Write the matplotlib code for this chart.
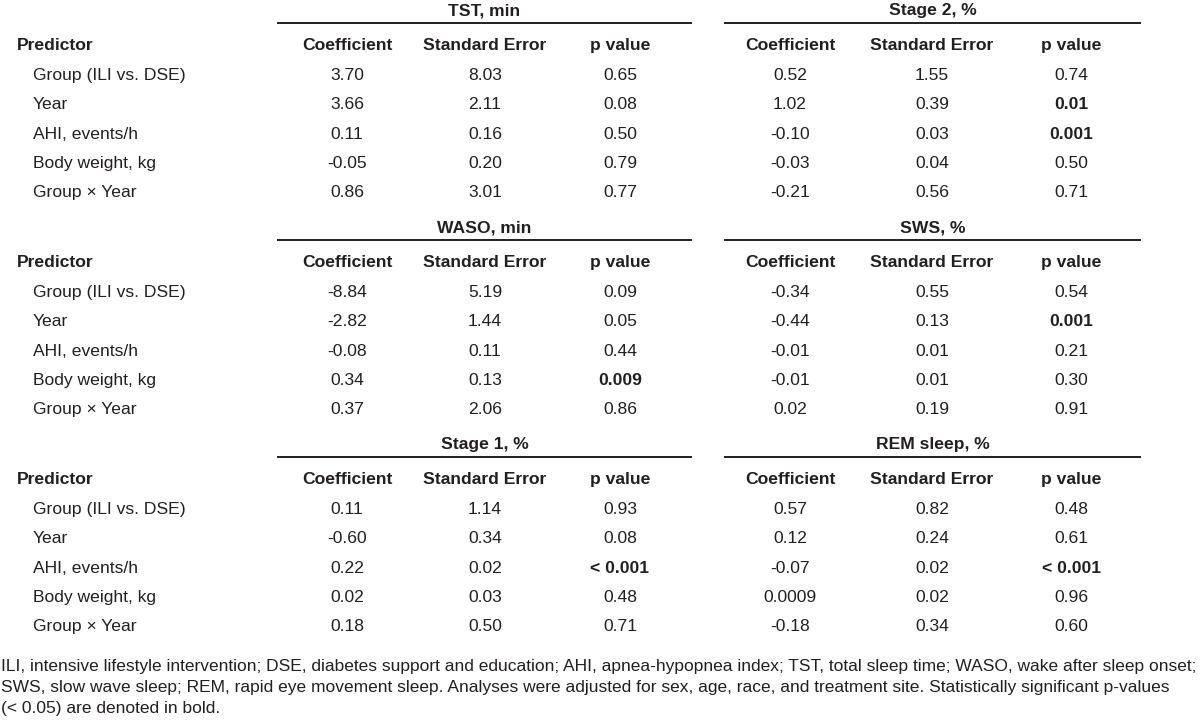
import matplotlib
matplotlib.use("Agg")
import matplotlib.pyplot as plt
import matplotlib.font_manager as fm

# ---- data ----
predictors = ["Group (ILI vs. DSE)", "Year", "AHI, events/h", "Body weight, kg", "Group \u00d7 Year"]
col_headers = ["Coefficient", "Standard Error", "p value"]

# (title, coefficients, standard errors, p values, bold p flags)
tst_title = "TST, min"
tst_coef = ["3.70", "3.66", "0.11", "-0.05", "0.86"]
tst_se = ["8.03", "2.11", "0.16", "0.20", "3.01"]
tst_p = ["0.65", "0.08", "0.50", "0.79", "0.77"]
tst_bold = [False, False, False, False, False]

st2_title = "Stage 2, %"
st2_coef = ["0.52", "1.02", "-0.10", "-0.03", "-0.21"]
st2_se = ["1.55", "0.39", "0.03", "0.04", "0.56"]
st2_p = ["0.74", "0.01", "0.001", "0.50", "0.71"]
st2_bold = [False, True, True, False, False]

waso_title = "WASO, min"
waso_coef = ["-8.84", "-2.82", "-0.08", "0.34", "0.37"]
waso_se = ["5.19", "1.44", "0.11", "0.13", "2.06"]
waso_p = ["0.09", "0.05", "0.44", "0.009", "0.86"]
waso_bold = [False, False, False, True, False]

sws_title = "SWS, %"
sws_coef = ["-0.34", "-0.44", "-0.01", "-0.01", "0.02"]
sws_se = ["0.55", "0.13", "0.01", "0.01", "0.19"]
sws_p = ["0.54", "0.001", "0.21", "0.30", "0.91"]
sws_bold = [False, True, False, False, False]

st1_title = "Stage 1, %"
st1_coef = ["0.11", "-0.60", "0.22", "0.02", "0.18"]
st1_se = ["1.14", "0.34", "0.02", "0.03", "0.50"]
st1_p = ["0.93", "0.08", "< 0.001", "0.48", "0.71"]
st1_bold = [False, False, True, False, False]

rem_title = "REM sleep, %"
rem_coef = ["0.57", "0.12", "-0.07", "0.0009", "-0.18"]
rem_se = ["0.82", "0.24", "0.02", "0.02", "0.34"]
rem_p = ["0.48", "0.61", "< 0.001", "0.96", "0.60"]
rem_bold = [False, False, True, False, False]

footnote = ["ILI, intensive lifestyle intervention; DSE, diabetes support and education; AHI, apnea-hypopnea index; TST, total sleep time; WASO, wake after sleep onset;",
            "SWS, slow wave sleep; REM, rapid eye movement sleep. Analyses were adjusted for sex, age, race, and treatment site. Statistically significant p-values",
            "(< 0.05) are denoted in bold."]

# ---- font ----
names = {f.name for f in fm.fontManager.ttflist}
if "Liberation Sans Narrow" in names:
    fam = "Liberation Sans Narrow"
    fs, fs_note = 15.3, 15.0
else:
    fam = "Liberation Sans"
    fs, fs_note = 12.6, 12.5
plt.rcParams["font.family"] = [fam, "DejaVu Sans"]

ink = "#231f20"

fig = plt.figure(figsize=(12, 7.25), dpi=100)
ax = fig.add_axes([0, 0, 1, 1])
ax.set_xlim(0, 1200)
ax.set_ylim(725, 0)
ax.axis("off")

# layout (pixels)
left_cols = [347, 485, 620]
right_cols = [790, 932, 1071]
left_line = (277, 692)
right_line = (724, 1141)
block_tops = [50, 267, 484]   # baseline of the header row
row_step = 29.3

blocks = [
    ((tst_title, tst_coef, tst_se, tst_p, tst_bold), (st2_title, st2_coef, st2_se, st2_p, st2_bold)),
    ((waso_title, waso_coef, waso_se, waso_p, waso_bold), (sws_title, sws_coef, sws_se, sws_p, sws_bold)),
    ((st1_title, st1_coef, st1_se, st1_p, st1_bold), (rem_title, rem_coef, rem_se, rem_p, rem_bold)),
]

for top, (left, right) in zip(block_tops, blocks):
    line_y = top - 27
    ax.text(17, top, "Predictor", fontsize=fs, fontweight="bold", color=ink, va="baseline")
    for i, name in enumerate(predictors):
        ax.text(33, top + 30 + i * row_step, name, fontsize=fs, color=ink, va="baseline")
    for meas, cols, (x0, x1) in ((left, left_cols, left_line), (right, right_cols, right_line)):
        title, coef, se, p, bold = meas
        ax.plot([x0, x1], [line_y, line_y], color=ink, lw=1.4, solid_capstyle="butt")
        ax.text((x0 + x1) / 2, line_y - 8, title, fontsize=fs, fontweight="bold",
                color=ink, ha="center", va="baseline")
        for x, h in zip(cols, col_headers):
            ax.text(x, top, h, fontsize=fs, fontweight="bold", color=ink, ha="center", va="baseline")
        for i in range(len(predictors)):
            y = top + 30 + i * row_step
            ax.text(cols[0], y, coef[i], fontsize=fs, color=ink, ha="center", va="baseline")
            ax.text(cols[1], y, se[i], fontsize=fs, color=ink, ha="center", va="baseline")
            ax.text(cols[2], y, p[i], fontsize=fs, color=ink, ha="center", va="baseline",
                    fontweight="bold" if bold[i] else "normal")

for i, line in enumerate(footnote):
    ax.text(1, 671 + i * 21, line, fontsize=fs_note, color=ink, va="baseline")

fig.savefig("out.png", dpi=100)
